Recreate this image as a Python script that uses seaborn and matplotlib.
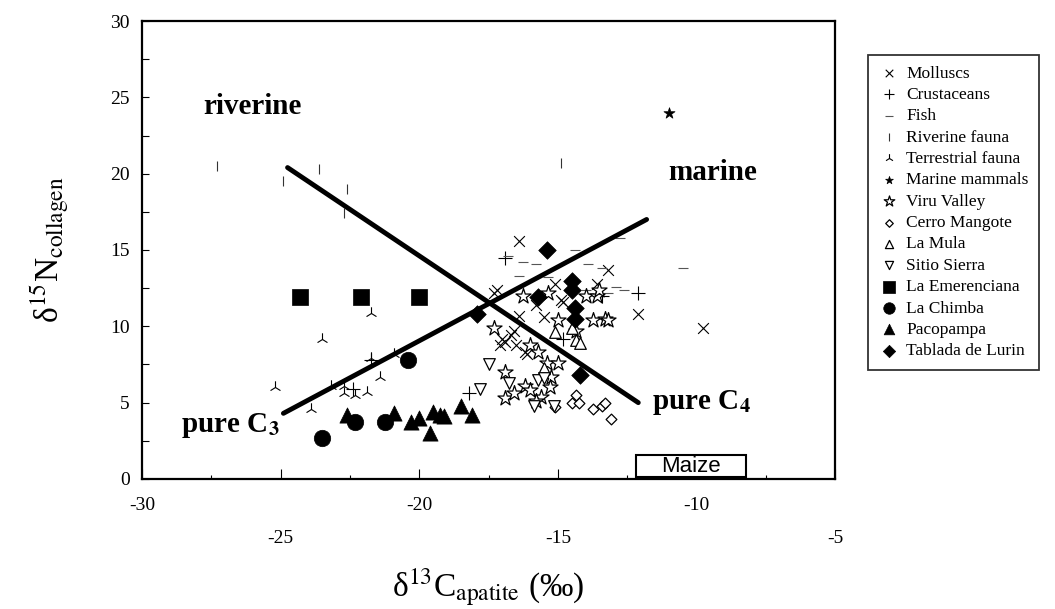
import matplotlib
matplotlib.use("Agg")
import matplotlib.pyplot as plt
import matplotlib.patches as mpatches
import matplotlib.transforms as mtransforms
import seaborn as sns

# === DADOS ===
moll_x = [-16.4, -17.2, -15.1, -14.9, -13.6, -16.4, -15.5, -13.2, -12.1, -9.75,
          -17.0, -16.7, -16.5, -16.1, -17.3, -14.8, -16.6, -16.9, -17.1, -16.2, -15.8]
moll_y = [15.6, 12.4, 12.8, 11.7, 12.8, 10.7, 10.6, 13.7, 10.8, 9.9,
          9.2, 9.4, 8.8, 8.2, 12.2, 11.6, 9.7, 9.0, 8.8, 8.3, 11.4]

crus_x = [-21.75, -18.2, -16.9, -12.1, -14.8, -13.4, -22.4]
crus_y = [7.8, 5.6, 14.5, 12.2, 9.2, 12.0, 5.9]

fish_x = [-16.25, -15.8, -14.4, -13.9, -16.4, -15.35, -13.4, -12.6, -12.75, -10.5,
          -13.2, -16.8, -14.0, -12.9]
fish_y = [14.2, 14.1, 15.0, 14.1, 13.3, 13.2, 13.8, 12.4, 15.8, 13.8,
          12.2, 14.6, 12.4, 12.6]

riv_x = [-27.3, -24.9, -23.6, -22.6, -22.7, -14.9]
riv_y = [20.5, 19.5, 20.3, 19.0, 17.4, 20.7]

terr_x = [-21.75, -23.5, -21.75, -20.9, -21.4, -25.2, -22.7, -22.7, -22.3, -21.9, -23.2, -23.9]
terr_y = [10.9, 9.2, 7.9, 8.2, 6.7, 6.0, 6.1, 5.6, 5.5, 5.7, 6.1, 4.6]

mam_x = [-11.0]
mam_y = [24.0]

viru_x = [-16.25, -15.35, -14.0, -13.6, -15.0, -13.75, -13.5, -13.3, -17.3, -16.9,
          -16.9, -16.6, -16.2, -16.0, -15.7, -15.4, -15.0, -15.25, -15.6, -16.0,
          -14.35, -13.2, -15.8, -15.3]
viru_y = [12.0, 12.2, 12.0, 12.0, 10.4, 10.4, 12.4, 10.5, 9.9, 7.0,
          5.3, 5.6, 6.1, 8.8, 8.3, 7.6, 7.6, 6.7, 5.4, 5.8,
          9.7, 10.4, 5.1, 6.0]

cerro_x = [-15.1, -14.5, -14.25, -13.75, -13.4, -13.3, -13.1, -14.35]
cerro_y = [4.7, 5.0, 5.0, 4.6, 4.8, 5.0, 3.9, 5.5]

mula_x = [-15.1, -15.5, -14.35, -14.2, -14.5]
mula_y = [9.6, 7.3, 9.1, 8.9, 9.9]

sierra_x = [-17.5, -17.8, -16.75, -15.7, -15.85, -15.15, -15.5]
sierra_y = [7.5, 5.9, 6.3, 6.5, 4.8, 4.8, 6.6]

emer_x = [-24.3, -22.1, -20.0]
emer_y = [11.9, 11.9, 11.9]

chimba_x = [-23.5, -22.3, -21.25, -20.4]
chimba_y = [2.7, 3.7, 3.7, 7.8]

paco_x = [-22.6, -20.9, -20.3, -20.0, -19.5, -19.25, -19.1, -19.6, -18.5, -18.1]
paco_y = [4.2, 4.3, 3.7, 4.0, 4.4, 4.2, 4.1, 3.0, 4.8, 4.2]

tabl_x = [-17.9, -15.4, -14.5, -15.7, -14.4, -14.4, -14.2, -14.5]
tabl_y = [10.8, 15.0, 13.0, 11.9, 11.2, 10.5, 6.8, 12.4]

# linhas de mistura
riverine_x = [-24.75, -12.1]
riverine_y = [20.4, 5.0]
marine_x = [-24.9, -11.8]
marine_y = [4.3, 17.0]

# caixa "Maize"
MAIZE_X0, MAIZE_X1 = -12.2, -8.2
MAIZE_Y0, MAIZE_Y1 = 0.1, 1.6

# === ESTILO ===
sns.set_theme(style="white")
plt.rcParams["font.family"] = ["Liberation Serif", "DejaVu Serif"]
plt.rcParams["mathtext.fontset"] = "stix"
plt.rcParams["axes.unicode_minus"] = False
for chave in ["text.color", "axes.labelcolor", "xtick.color", "ytick.color"]:
    plt.rcParams[chave] = "black"

fig = plt.figure(figsize=(10.55, 6.09), dpi=100)
ax = fig.add_axes([0.1346, 0.2135, 0.657, 0.752])

grupos = [
    ("Molluscs", moll_x, moll_y, dict(marker="x", color="black", s=60, linewidth=0.8)),
    ("Crustaceans", crus_x, crus_y, dict(marker="+", color="black", s=90, linewidth=0.8)),
    ("Fish", fish_x, fish_y, dict(marker="_", color="#555555", s=60, linewidth=0.8)),
    ("Riverine fauna", riv_x, riv_y, dict(marker="|", color="#333333", s=60, linewidth=0.8)),
    ("Terrestrial fauna", terr_x, terr_y, dict(marker="2", color="black", s=80, linewidth=0.8)),
    ("Marine mammals", mam_x, mam_y, dict(marker="*", color="black", edgecolor="black", s=70, linewidth=0.5)),
    ("Viru Valley", viru_x, viru_y, dict(marker="*", color="white", edgecolor="black", s=130, linewidth=0.9)),
    ("Cerro Mangote", cerro_x, cerro_y, dict(marker="D", color="white", edgecolor="black", s=30, linewidth=0.9)),
    ("La Mula", mula_x, mula_y, dict(marker="^", color="white", edgecolor="black", s=70, linewidth=0.9)),
    ("Sitio Sierra", sierra_x, sierra_y, dict(marker="v", color="white", edgecolor="black", s=70, linewidth=0.9)),
    ("La Emerenciana", emer_x, emer_y, dict(marker="s", color="black", edgecolor="black", s=130, linewidth=0.5)),
    ("La Chimba", chimba_x, chimba_y, dict(marker="o", color="black", edgecolor="black", s=140, linewidth=0.5)),
    ("Pacopampa", paco_x, paco_y, dict(marker="^", color="black", edgecolor="black", s=120, linewidth=0.5)),
    ("Tablada de Lurin", tabl_x, tabl_y, dict(marker="D", color="black", edgecolor="black", s=80, linewidth=0.5)),
]

for nome, xs, ys, kw in grupos:
    sns.scatterplot(x=xs, y=ys, ax=ax, label=nome, zorder=3, **kw)

# linhas riverine / marine
sns.lineplot(x=riverine_x, y=riverine_y, ax=ax, color="black", linewidth=3.5, sort=False, zorder=4)
sns.lineplot(x=marine_x, y=marine_y, ax=ax, color="black", linewidth=3.5, sort=False, zorder=4)

# textos
ax.text(-26.0, 24.4, "riverine", fontsize=21, fontweight="bold", ha="center", va="center")
ax.text(-9.4, 20.1, "marine", fontsize=21, fontweight="bold", ha="center", va="center")
ax.text(-25.05, 3.5, r"pure C$_{\mathbf{3}}$", fontsize=21, fontweight="bold", ha="right", va="center")
ax.text(-11.6, 5.0, r"pure C$_{\mathbf{4}}$", fontsize=21, fontweight="bold", ha="left", va="center")

ax.add_patch(mpatches.Rectangle((MAIZE_X0, MAIZE_Y0), MAIZE_X1 - MAIZE_X0, MAIZE_Y1 - MAIZE_Y0,
                                facecolor="white", edgecolor="black", linewidth=1.5, zorder=5))
ax.text((MAIZE_X0 + MAIZE_X1) / 2, (MAIZE_Y0 + MAIZE_Y1) / 2, "Maize", family="Liberation Sans",
        fontsize=16, ha="center", va="center", zorder=6)

# eixos
ax.set_xlim(-30, -5)
ax.set_ylim(0, 30)
for sp in ax.spines.values():
    sp.set_color("black")
    sp.set_linewidth(1.6)

ax.set_yticks([0, 5, 10, 15, 20, 25, 30])
ax.set_yticks([2.5, 7.5, 12.5, 17.5, 22.5, 27.5], minor=True)
ax.tick_params(axis="y", which="both", direction="in", left=True, labelsize=14, pad=9,
               length=5, width=0.8)

# rotulos de x escalonados (duas linhas)
ax.set_xticks([-30, -25, -20, -15, -10, -5])
ax.set_xticks([-27.5, -22.5, -17.5, -12.5, -7.5], minor=True)
ax.tick_params(axis="x", which="both", direction="in", bottom=True, labelsize=14, width=0.8, pad=13)
ax.tick_params(axis="x", which="major", length=7)
ax.tick_params(axis="x", which="minor", length=3)
desloca = mtransforms.ScaledTranslation(0, -0.33, fig.dpi_scale_trans)
for lbl in ax.get_xticklabels()[1::2]:
    lbl.set_transform(lbl.get_transform() + desloca)

ax.set_xlabel("δ$^{13}$C$_{\\mathrm{apatite}}$ (‰)", fontsize=24, labelpad=14)
ax.set_ylabel("δ$^{15}$N$_{\\mathrm{collagen}}$", fontsize=24, labelpad=28)

# legenda
handles, labels = ax.get_legend_handles_labels()
leg = ax.legend(handles, labels, loc="upper left", bbox_to_anchor=(0.8227, 0.9097),
                bbox_transform=fig.transFigure, borderaxespad=0, fontsize=12.5,
                frameon=True, fancybox=False, edgecolor="black", labelspacing=0.3,
                handletextpad=0.4, handlelength=1.2, markerscale=0.7, borderpad=0.6)
leg.get_frame().set_linewidth(1.3)

fig.savefig("out.png", dpi=100)
